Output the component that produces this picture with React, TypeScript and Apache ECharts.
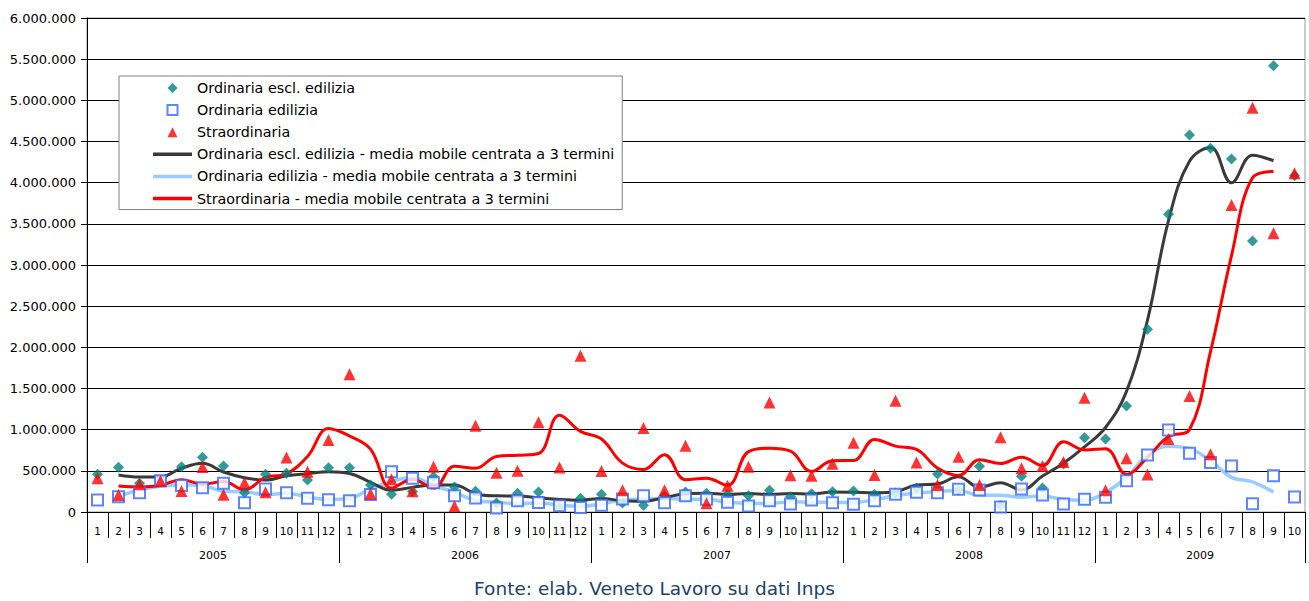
import React, { useEffect, useRef } from 'react';
import * as echarts from 'echarts';

const YEARS = ['2005', '2006', '2007', '2008', '2009'];
const MONTHS_PER_YEAR = [12, 12, 12, 12, 10];

// scatter points (monthly values)
const ORD_ESCL = [
  458000, 543000, 348000, 380000, 550000, 664000, 559000, 235000, 458000, 470000, 389000, 538000,
  538000, 328000, 217000, 250000, 429000, 304000, 253000, 109000, 227000, 243000, 50000, 166000,
  217000, 110000, 81000, 198000, 243000, 227000, 217000, 196000, 263000, 186000, 223000, 247000,
  255000, 215000, 230000, 292000, 462000, 266000, 555000, 80000, 433000, 292000, 583000, 903000,
  887000, 1288000, 2220000, 3616000, 4579000, 4417000, 4288000, 3292000, 5421000, 4085000,
];
const ORD_EDIL = [
  146000, 186000, 235000, 380000, 322000, 295000, 348000, 113000, 279000, 235000, 168000, 148000,
  138000, 212000, 490000, 409000, 356000, 198000, 170000, 50000, 138000, 116000, 75000, 56000,
  81000, 158000, 196000, 113000, 196000, 156000, 118000, 73000, 136000, 97000, 146000, 113000,
  93000, 138000, 217000, 239000, 235000, 277000, 267000, 61000, 279000, 206000, 97000, 154000,
  178000, 380000, 692000, 996000, 713000, 601000, 559000, 101000, 441000, 182000,
];
const STRAORD = [
  409000, 206000, 336000, 377000, 255000, 547000, 210000, 356000, 241000, 662000, 490000, 874000,
  1674000, 221000, 397000, 251000, 550000, 69000, 1048000, 476000, 500000, 1091000, 540000, 1898000,
  498000, 263000, 1020000, 265000, 804000, 105000, 320000, 550000, 1330000, 445000, 441000, 587000,
  842000, 449000, 1350000, 601000, 328000, 672000, 328000, 907000, 530000, 559000, 607000, 1389000,
  263000, 652000, 454000, 887000, 1409000, 702000, 3729000, 4911000, 3385000, 4114000,
];

// centred 3-term moving averages, as drawn in the chart
const MM_ORD_ESCL = [
  null, 450000, 424000, 426000, 531000, 591000, 486000, 417000, 388000, 439000, 466000, 488000,
  468000, 361000, 265000, 299000, 328000, 329000, 222000, 196000, 193000, 173000, 153000, 144000,
  164000, 136000, 130000, 174000, 223000, 229000, 213000, 225000, 215000, 224000, 219000, 242000,
  239000, 233000, 246000, 328000, 340000, 428000, 300000, 356000, 268000, 436000, 593000, 791000,
  1026000, 1465000, 2330000, 3540000, 4260000, 4428000, 3999000, 4334000, 4266000, null,
];
const MM_ORD_EDIL = [
  null, 189000, 267000, 312000, 332000, 322000, 252000, 247000, 209000, 227000, 184000, 151000,
  166000, 280000, 370000, 418000, 321000, 241000, 139000, 119000, 101000, 110000, 82000, 71000,
  98000, 145000, 156000, 168000, 155000, 157000, 116000, 109000, 102000, 126000, 119000, 117000,
  115000, 149000, 198000, 230000, 250000, 260000, 202000, 202000, 182000, 194000, 152000, 143000,
  237000, 417000, 689000, 800000, 770000, 624000, 420000, 367000, 241000, null,
];
const MM_STRAORD = [
  null, 317000, 306000, 323000, 393000, 337000, 371000, 269000, 420000, 464000, 675000, 1013000,
  923000, 764000, 290000, 399000, 290000, 556000, 531000, 675000, 689000, 710000, 1176000, 979000,
  886000, 594000, 516000, 696000, 391000, 410000, 325000, 733000, 775000, 739000, 491000, 623000,
  626000, 880000, 800000, 760000, 534000, 443000, 636000, 588000, 665000, 565000, 852000, 753000,
  768000, 456000, 664000, 917000, 999000, 1947000, 3114000, 4060000, 4137000, null,
];

const NAMES = [
  'Ordinaria escl. edilizia',
  'Ordinaria edilizia',
  'Straordinaria',
  'Ordinaria escl. edilizia - media mobile centrata a 3 termini',
  'Ordinaria edilizia - media mobile centrata a 3 termini',
  'Straordinaria - media mobile centrata a 3 termini',
];
const SOURCE = 'Fonte: elab. Veneto Lavoro su dati Inps';

const FONT = 'DejaVu Sans';

const ICON_DIAMOND = 'path://M4.5,0 L9,4.5 L4.5,9 L0,4.5 Z';
const ICON_SQUARE = 'path://M0,0 L10,0 L10,10 L0,10 Z';
const ICON_TRIANGLE = 'path://M5,0 L10,10 L0,10 Z';
const ICON_LINE = 'path://M0,0 L39,0 L39,3.5 L0,3.5 Z';

function buildCategories() {
  const cats: string[] = [];
  MONTHS_PER_YEAR.forEach((n) => {
    for (let m = 1; m <= n; m++) cats.push(String(m));
  });
  return cats;
}

function yearBounds() {
  const bounds = [0];
  const mids: number[] = [];
  let acc = 0;
  MONTHS_PER_YEAR.forEach((n) => {
    mids.push(acc + n / 2);
    acc += n;
    bounds.push(acc);
  });
  return { bounds, mids, total: acc };
}

const fmt = (v: number) => String(v).replace(/\B(?=(\d{3})+(?!\d))/g, '.');

export default function App() {
  const ref = useRef<HTMLDivElement>(null);
  useEffect(() => {
    if (!ref.current) return;
    const chart = echarts.init(ref.current, null, { renderer: 'svg' });
    const cats = buildCategories();
    const { bounds, mids, total } = yearBounds();
    chart.setOption({
      animation: false,
      backgroundColor: '#fff',
      textStyle: { fontFamily: FONT },
      title: {
        text: SOURCE,
        left: 'center',
        top: 574,
        textStyle: { fontFamily: FONT, fontSize: 18.5, fontWeight: 'normal', color: '#1B3F6E' },
      },
      legend: {
        orient: 'vertical',
        left: 119,
        top: 76,
        padding: [5, 8, 4, 34],
        itemWidth: 39,
        itemHeight: 10,
        itemGap: 8.1,
        backgroundColor: '#fff',
        borderColor: '#808080',
        borderWidth: 1,
        symbolKeepAspect: true,
        textStyle: { fontFamily: FONT, fontSize: 14.3, color: '#000' },
        data: [
          { name: NAMES[0], icon: ICON_DIAMOND },
          { name: NAMES[1], icon: ICON_SQUARE },
          { name: NAMES[2], icon: ICON_TRIANGLE },
          { name: NAMES[3], icon: ICON_LINE },
          { name: NAMES[4], icon: ICON_LINE },
          { name: NAMES[5], icon: ICON_LINE },
        ],
      },
      grid: {
        left: 87,
        right: 4,
        top: 18,
        bottom: 89,
        show: true,
        borderColor: '#999',
        borderWidth: 1,
        backgroundColor: 'transparent',
      },
      xAxis: [
        {
          type: 'category',
          data: cats,
          boundaryGap: true,
          axisLine: { lineStyle: { color: '#000', width: 1 } },
          axisTick: { show: true, interval: 0, length: 26, lineStyle: { color: '#000' } },
          axisLabel: { interval: 0, fontSize: 10.5, color: '#000', margin: 13, fontFamily: FONT },
          splitLine: { show: false },
        },
        {
          type: 'value',
          min: 0,
          max: total,
          position: 'bottom',
          axisLine: { show: true, lineStyle: { color: '#000', width: 1 } },
          axisTick: {
            show: true,
            length: 51,
            customValues: bounds,
            lineStyle: { color: '#000' },
          },
          axisLabel: {
            customValues: mids,
            fontSize: 11,
            color: '#000',
            margin: 38,
            fontFamily: FONT,
            formatter: (v: number) => {
              const i = mids.indexOf(v);
              return i >= 0 ? YEARS[i] : '';
            },
          },
          splitLine: { show: false },
        },
      ],
      yAxis: {
        type: 'value',
        min: 0,
        max: 6000000,
        interval: 500000,
        axisLine: { show: true, lineStyle: { color: '#000', width: 1 } },
        axisTick: { show: true, length: 6, lineStyle: { color: '#000' } },
        axisLabel: { fontSize: 13, color: '#000', margin: 11, fontFamily: FONT, formatter: fmt },
        splitLine: { show: true, lineStyle: { color: '#000', width: 1 } },
      },
      series: [
        {
          name: NAMES[0],
          type: 'scatter',
          xAxisIndex: 0,
          data: ORD_ESCL,
          symbol: 'diamond',
          symbolSize: 11,
          itemStyle: { color: '#008080' },
          z: 5,
        },
        {
          name: NAMES[1],
          type: 'scatter',
          xAxisIndex: 0,
          data: ORD_EDIL,
          symbol: 'rect',
          symbolSize: 11,
          itemStyle: { color: '#fff', borderColor: '#3366FF', borderWidth: 2 },
          z: 5,
        },
        {
          name: NAMES[2],
          type: 'scatter',
          xAxisIndex: 0,
          data: STRAORD,
          symbol: 'triangle',
          symbolSize: 12,
          itemStyle: { color: '#FF0000' },
          z: 5,
        },
        {
          name: NAMES[3],
          type: 'line',
          xAxisIndex: 0,
          data: MM_ORD_ESCL,
          smooth: 0.4,
          symbol: 'none',
          showSymbol: false,
          color: '#3A3A3A',
          itemStyle: { color: '#3A3A3A' },
          lineStyle: { color: '#3A3A3A', width: 3 },
          z: 3,
        },
        {
          name: NAMES[4],
          type: 'line',
          xAxisIndex: 0,
          data: MM_ORD_EDIL,
          smooth: 0.4,
          symbol: 'none',
          showSymbol: false,
          color: '#99CCFF',
          itemStyle: { color: '#99CCFF' },
          lineStyle: { color: '#99CCFF', width: 3.5 },
          z: 2,
        },
        {
          name: NAMES[5],
          type: 'line',
          xAxisIndex: 0,
          data: MM_STRAORD,
          smooth: 0.4,
          symbol: 'none',
          showSymbol: false,
          color: '#FF0000',
          itemStyle: { color: '#FF0000' },
          lineStyle: { color: '#FF0000', width: 3 },
          z: 3,
        },
      ],
    });
    return () => chart.dispose();
  }, []);
  return (
    <div
      ref={ref}
      style={{ position: 'fixed', left: 0, top: 0, width: 1309, height: 601, background: '#fff' }}
    />
  );
}
